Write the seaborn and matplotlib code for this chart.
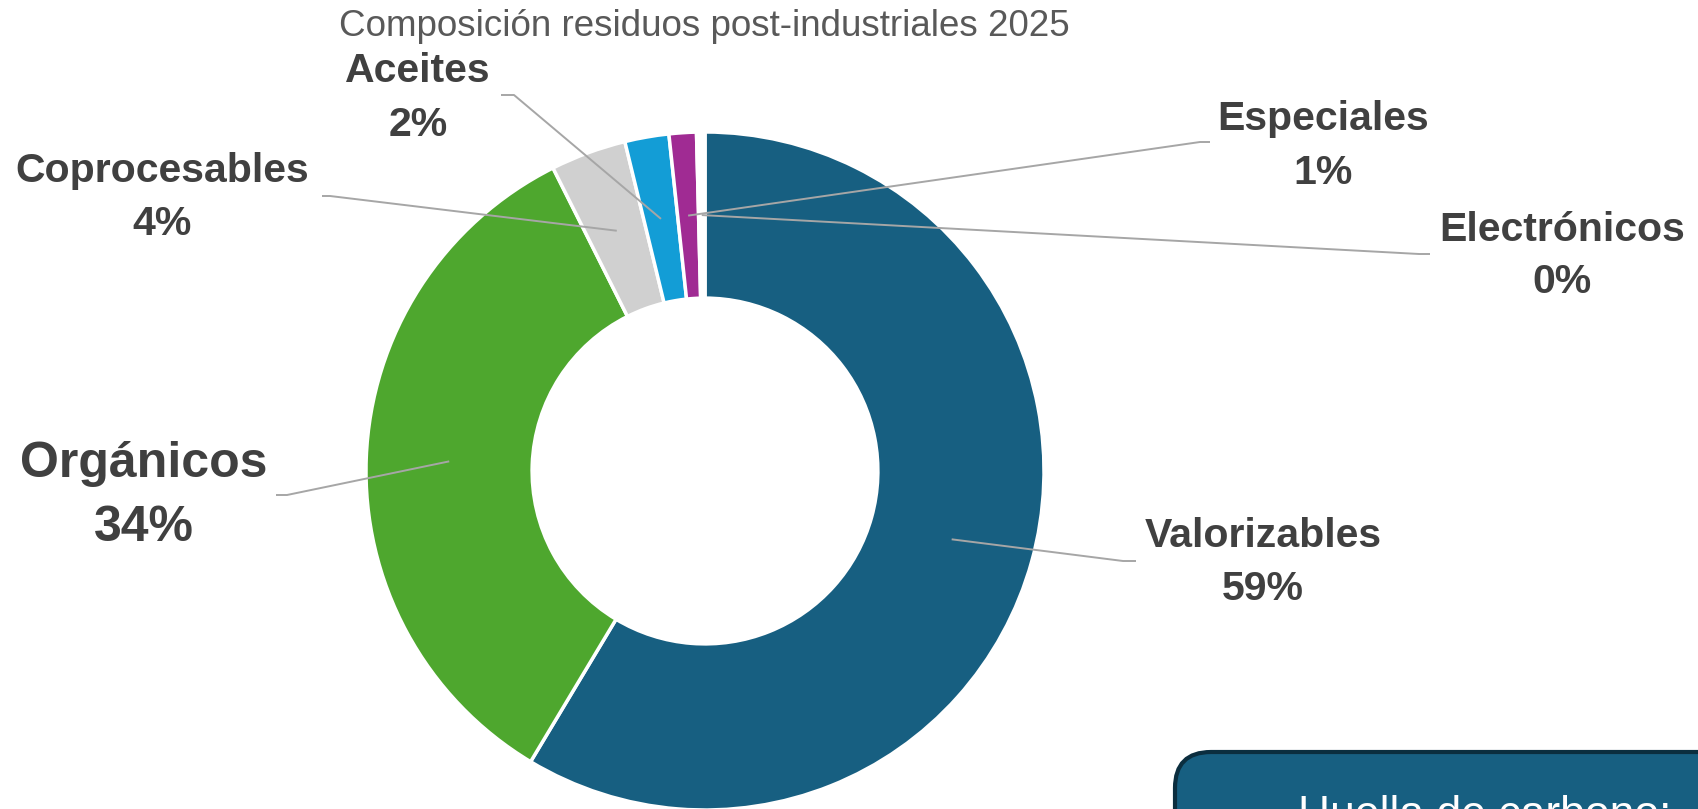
import numpy as np
import matplotlib
matplotlib.use("Agg")
import matplotlib.pyplot as plt
from matplotlib.patches import FancyBboxPatch
import seaborn as sns

# data
categories = ["Valorizables", "Orgánicos", "Coprocesables", "Aceites", "Especiales", "Electrónicos"]
shares = [58.6, 34.0, 3.6, 2.1, 1.3, 0.4]
colors = ["#175F81", "#4EA72E", "#D0D0D0", "#139DD6", "#A02B93", "#FFFFFF"]
title = "Composición residuos post-industriales 2025"

sns.set_theme(style="white")
plt.rcParams['font.family'] = ['Liberation Sans', 'DejaVu Sans']

W, H = 1698, 809
fig = plt.figure(figsize=(W / 100, H / 100), dpi=100)
ax = fig.add_axes([0, 0, 1, 1])

cx, cy, R = 705, H - 471, 339
wedges, _ = ax.pie(shares, colors=colors, startangle=90, counterclock=False,
                   center=(cx, cy), radius=R,
                   wedgeprops=dict(width=R * 0.49, edgecolor="white", linewidth=2.5))
ax.set_xlim(0, W)
ax.set_ylim(0, H)
ax.set_aspect("equal")
ax.axis("off")

# label layout (pixel positions, y from top), elbow end of leader, font size
label_pos = {
    "Valorizables": (1263, 536, 589, 1136, 1123, 561, 29.5),
    "Orgánicos": (144, 464, 528, 276, 287, 495, 36),
    "Coprocesables": (162, 171, 224, 322, 330, 196, 29.5),
    "Aceites": (418, 71, 125, 501, 514, 95, 29.5),
    "Especiales": (1323, 119, 173, 1210, 1200, 142, 29.5),
    "Electrónicos": (1562, 230, 282, 1430, 1419, 254, 29.5),
}

for w, name, val in zip(wedges, categories, shares):
    tx, ty1, ty2, ex1, ex2, ey, fs = label_pos[name]
    ang = np.deg2rad((w.theta1 + w.theta2) / 2)
    ax_pt = cx + 0.755 * R * np.cos(ang)
    ay_pt = cy + 0.755 * R * np.sin(ang)
    ax.plot([ex1, ex2, ax_pt], [H - ey, H - ey, ay_pt], color="#A6A6A6", lw=1.4,
            solid_capstyle="butt")
    ax.text(tx, H - ty1, name, ha="center", va="center", fontsize=fs,
            fontweight="bold", color="#404040")
    ax.text(tx, H - ty2, f"{round(val):.0f}%", ha="center", va="center", fontsize=fs,
            fontweight="bold", color="#404040")

ax.text(704, H - 26, title, ha="center", va="center", fontsize=26.5, color="#595959")

# partially visible info box at the bottom right
box = FancyBboxPatch((1175, -60), 600, H - 752 + 60, boxstyle="round,pad=0,rounding_size=36",
                     facecolor="#175F81", edgecolor="#0B2E3F", linewidth=3, clip_on=False)
ax.add_patch(box)
ax.text(1298, H - 795, "Huella de carbono:", ha="left", va="top", fontsize=32, color="white")

fig.savefig("out.png", dpi=100)
